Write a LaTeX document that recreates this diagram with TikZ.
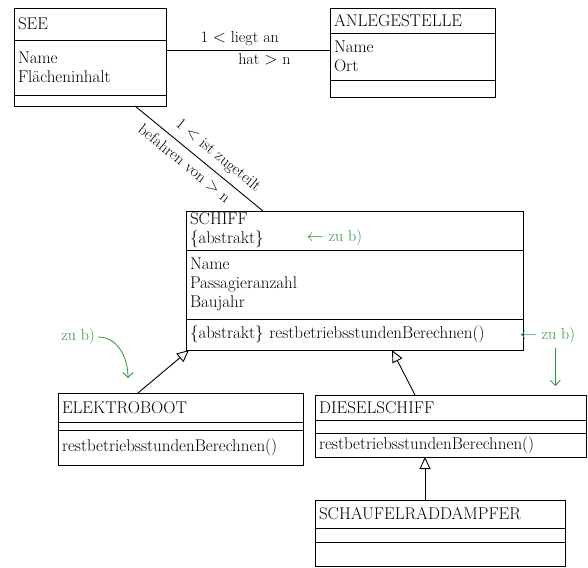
\documentclass[tikz,border=0pt]{standalone}
\usepackage{tikz}
\usetikzlibrary{arrows.meta, positioning}
\definecolor{notegreen}{RGB}{40,150,60}

\begin{document}
\begin{tikzpicture}[x=1pt, y=-1pt,
  sect/.style={draw, line width=0.9pt, anchor=north west, inner xsep=4pt, inner ysep=2pt, outer sep=0pt, align=left, font=\fontsize{17}{19}\selectfont},
  assoc/.style={line width=0.9pt},
  lbl/.style={font=\fontsize{16}{18}\selectfont},
  inherit/.style={line width=0.9pt, -{Triangle[open, length=12pt, width=11pt]}},
  note/.style={text=notegreen, font=\fontsize{16}{18}\selectfont},
  notearrow/.style={draw=notegreen, line width=0.8pt, -{Straight Barb[length=5pt]}}]
\useasboundingbox (0,0) rectangle (588,567);

% SEE
\node[sect, text width=144pt, minimum height=32pt] (seeTitle) at (14,8) {SEE};
\node[sect, text width=144pt, minimum height=55pt] (seeAttr) at (seeTitle.south west) {Name\\Flächeninhalt};
\node[sect, text width=144pt, minimum height=11pt] (seeOps) at (seeAttr.south west) {};

% ANLEGESTELLE
\node[sect, text width=157pt, minimum height=25pt] (anlTitle) at (330,8) {ANLEGESTELLE};
\node[sect, text width=157pt, minimum height=47pt] (anlAttr) at (anlTitle.south west) {Name\\Ort};
\node[sect, text width=157pt, minimum height=17pt] (anlOps) at (anlAttr.south west) {};

% SCHIFF
\node[sect, text width=329pt, minimum height=39pt] (schiffTitle) at (186,211) {SCHIFF\\\{abstrakt\}};
\node[sect, text width=329pt, minimum height=69pt] (schiffAttr) at (schiffTitle.south west) {Name\\Passagieranzahl\\Baujahr};
\node[sect, text width=329pt, minimum height=31pt] (schiffOps) at (schiffAttr.south west) {\{abstrakt\} restbetriebsstundenBerechnen()};

% ELEKTROBOOT
\node[sect, text width=237pt, minimum height=29pt] (ekTitle) at (58,393) {ELEKTROBOOT};
\node[sect, text width=237pt, minimum height=8pt] (ekAttr) at (ekTitle.south west) {};
\node[sect, text width=237pt, minimum height=35pt] (ekOps) at (ekAttr.south west) {restbetriebsstundenBerechnen()};

% DIESELSCHIFF
\node[sect, text width=263pt, minimum height=25pt] (dsTitle) at (315,395) {DIESELSCHIFF};
\node[sect, text width=263pt, minimum height=13pt] (dsAttr) at (dsTitle.south west) {};
\node[sect, text width=263pt, minimum height=24pt] (dsOps) at (dsAttr.south west) {restbetriebsstundenBerechnen()};

% SCHAUFELRADDAMPFER
\node[sect, text width=242pt, minimum height=28pt] (srTitle) at (315,500) {SCHAUFELRADDAMPFER};
\node[sect, text width=242pt, minimum height=14pt] (srAttr) at (srTitle.south west) {};
\node[sect, text width=242pt, minimum height=24pt] (srOps) at (srAttr.south west) {};

% associations
\draw[assoc] ([yshift=-10pt]seeAttr.north east) coordinate (la) -- (la -| anlAttr.west)
  node[lbl, above, pos=0.45] {1 $<$ liegt an}
  node[lbl, below, pos=0.6] {hat $>$ n};
\draw[assoc] ([xshift=-31pt]seeOps.south east) -- ([xshift=77pt]schiffTitle.north west)
  node[lbl, above=3pt, sloped, pos=0.58] {1 $<$ ist zugeteilt}
  node[lbl, below=3pt, sloped, pos=0.45] {befahren von $>$ n};

% inheritance
\draw[inherit] ([xshift=80pt]ekTitle.north west) -- ([xshift=3pt]schiffOps.south west);
\draw[inherit] ([xshift=100pt]dsTitle.north west) -- ([xshift=206pt]schiffOps.south west);
\draw[inherit] ([xshift=110pt]srTitle.north west) coordinate (sr) -- (sr |- dsOps.south);

% notes zu b)
\node[note, anchor=west] (noteAbs) at (303,238) {$\leftarrow$ zu b)};
\node[note, anchor=west] (noteOps) at (516,336) {$\leftarrow$ zu b)};
\node[note] (noteEk) at (78,337) {zu b)};
\coordinate (ekMark) at (128,378);
\coordinate (dsMark) at (548,386);
\draw[notearrow] (noteEk.east) to[out=0, in=90] (ekMark);
\draw[notearrow] ([xshift=8pt]noteOps.south) coordinate (nd) -- (nd |- dsMark);
\end{tikzpicture}
\end{document}
